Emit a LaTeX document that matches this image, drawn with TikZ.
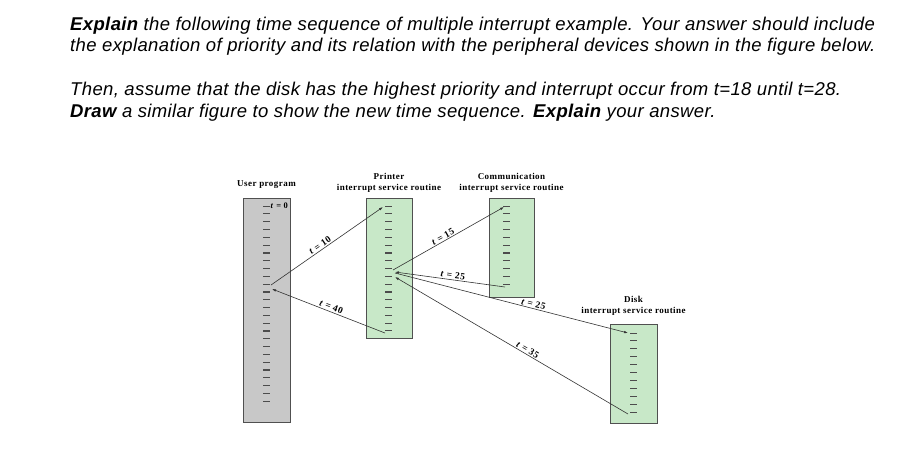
\documentclass[tikz,border=0pt]{standalone}
\usepackage{fontspec}
\usepackage{tikz}
\usetikzlibrary{arrows.meta,positioning}
\newfontfamily\hdrfont[LetterSpace=2]{Liberation Sans}
\newfontfamily\lblfont[LetterSpace=5]{Liberation Serif}
\definecolor{boxGray}{HTML}{C8C8C8}
\definecolor{isrGreen}{HTML}{C8E8C8}
\definecolor{edgeGray}{HTML}{505050}
\tikzset{
  stack/.style={draw=edgeGray,line width=0.9pt,minimum width=47pt,inner sep=0pt},
  userstack/.style={stack,fill=boxGray},
  isrstack/.style={stack,fill=isrGreen},
  tickmark/.style={line width=1pt,draw=black!70},
  ttl/.style={font=\lblfont\bfseries\fontsize{9}{11}\selectfont,align=center,inner sep=0pt},
  flow/.style={-{Latex[length=4pt,width=2.6pt]},line width=0.6pt,draw=black!80},
  tlbl/.style={font=\lblfont\bfseries\fontsize{9.5}{10}\selectfont,sloped,above,inner sep=1pt},
  para/.style={font=\hdrfont\itshape\fontsize{18.5}{21.5}\selectfont,align=left,anchor=base west,inner sep=0pt},
}

\begin{document}
\begin{tikzpicture}[x=1pt,y=-1pt]
\fill[white] (0,0) rectangle (907,451);
\useasboundingbox (0,0) rectangle (907,451);
% question text
\node[para] (q1) at (70,51.5) {\textbf{Explain} the following time sequence of multiple interrupt example. Your answer should include\\the explanation of priority and its relation with the peripheral devices shown in the figure below.};
\node[para] (q2) at (70,117) {Then, assume that the disk has the highest priority and interrupt occur from t=18 until t=28.\\\textbf{Draw} a similar figure to show the new time sequence. \textbf{Explain} your answer.};
% program stacks
\node[userstack,minimum height=224pt] (user) at (266.5,310) {};
\node[isrstack,minimum width=46pt,minimum height=140pt] (prn) at (389,268) {};
\node[isrstack,minimum width=45pt,minimum height=99pt] (comm) at (511.5,247.5) {};
\node[isrstack,minimum height=99pt] (disk) at (633.5,373.5) {};
\node[ttl,above=9pt of user.north] (userttl) {User program};
\node[ttl,above=5pt of prn.north] (prnttl) {Printer\\interrupt service routine};
\node[ttl,above=5pt of comm.north] (commttl) {Communication\\interrupt service routine};
\node[ttl,above=8pt of disk.north] (diskttl) {Disk\\interrupt service routine};
% instruction ticks
\foreach \i in {0,...,25} \draw[tickmark] (263,206+7.8*\i) -- ++(7,0);
\foreach \i in {0,...,16} \draw[tickmark] (385,206+7.8*\i) -- ++(7,0);
\foreach \i in {0,...,10} \draw[tickmark] (503,206+7.8*\i) -- ++(7,0);
\foreach \i in {0,...,10} \draw[tickmark] (630,333+7.9*\i) -- ++(7,0);
\foreach \i in {6,11,16,21} \draw[tickmark,line width=1.5pt] (263,206+7.8*\i) -- ++(7,0);
\foreach \i in {6,11} \draw[tickmark,line width=1.5pt] (385,206+7.8*\i) -- ++(7,0);
\draw[tickmark,line width=1.5pt] (503,206+7.8*6) -- ++(7,0);
\node[font=\lblfont\bfseries\fontsize{8.5}{9}\selectfont,anchor=west,inner sep=0.5pt] (t0) at (270,206) {\textit{t} = 0};
% transfer points
\coordinate (u10) at (271,285);
\coordinate (u40) at (272,289);
\coordinate (p10) at (383,207);
\coordinate (p15) at (393,270);
\coordinate (p25) at (395,272);
\coordinate (p25b) at (395,273);
\coordinate (p35) at (395,277);
\coordinate (p40) at (385,333);
\coordinate (c15) at (504,207);
\coordinate (c25) at (505,287);
\coordinate (d25) at (628,333);
\coordinate (d35) at (628,414);
\draw[flow] (u10) -- node[tlbl,pos=0.46]{\textit{t} = 10} (p10);
\draw[flow] (p40) -- node[tlbl,pos=0.49]{\textit{t} = 40} (u40);
\draw[flow] (p15) -- node[tlbl,pos=0.47]{\textit{t} = 15} (c15);
\draw[flow] (c25) -- node[tlbl,pos=0.48]{\textit{t} = 25} (p25);
\draw[flow] (p25b) -- node[tlbl,pos=0.59]{\textit{t} = 25} (d25);
\draw[flow] (d35) -- node[tlbl,pos=0.44]{\textit{t} = 35} (p35);
\end{tikzpicture}
\end{document}
